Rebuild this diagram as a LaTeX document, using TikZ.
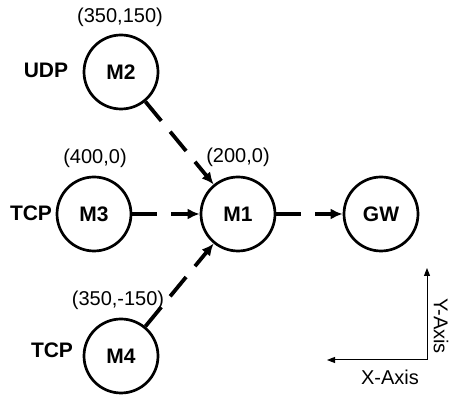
\documentclass[tikz,border=0pt]{standalone}
\usepackage{fontspec}
\setmainfont{Liberation Sans}
\usetikzlibrary{arrows.meta}

\begin{document}
\begin{tikzpicture}
    [x=1pt,y=1pt,inner sep=0pt,
     host/.style={circle,draw,line width=2.7pt,minimum size=74pt,font=\fontsize{21}{25}\selectfont\bfseries},
     proto/.style={font=\fontsize{21}{25}\selectfont\bfseries},
     coord/.style={font=\fontsize{20}{24}\selectfont},
     link/.style={-{Latex[length=12pt,width=11pt]},line width=3.8pt,dash pattern=on 25pt off 14pt},
     axis/.style={-{Triangle[length=8pt,width=6pt]},line width=1pt}]
    \useasboundingbox (0,0) rectangle (449,395);
    \node (m2) at (121, 323) [host] {M2};
    \node (m3) at (94, 181) [host] {M3};
    \node (m1) at (238, 181) [host] {M1};
    \node (gw) at (381, 181) [host] {GW};
    \node (m4) at (121, 39) [host] {M4};
    \node (m2pos) at (120, 378) [coord] {(350,150)};
    \node (m3pos) at (95, 237) [coord] {(400,0)};
    \node (m1pos) at (238, 238) [coord] {(200,0)};
    \node (m4pos) at (118, 95) [coord] {(350,-150)};
    \node (m2proto) at (46, 325) [proto] {UDP};
    \node (m3proto) at (31, 182) [proto] {TCP};
    \node (m4proto) at (52, 45) [proto] {TCP};
    \draw [link] (m2) to (m1);
    \draw [link] (m3) to (m1);
    \draw [link] (m4) to (m1);
    \draw [link] (m1) to (gw);
    % axes
    \coordinate (origin) at (427, 35);
    \coordinate (ytip) at (427, 127);
    \coordinate (xtip) at (327, 35);
    \draw [axis] (origin) to (ytip);
    \draw [axis] (origin) to (xtip);
    \node (xlabel) at (390, 18) [coord] {X-Axis};
    \node (ylabel) at (441, 69) [coord,rotate=-90] {Y-Axis};
\end{tikzpicture}
\end{document}
